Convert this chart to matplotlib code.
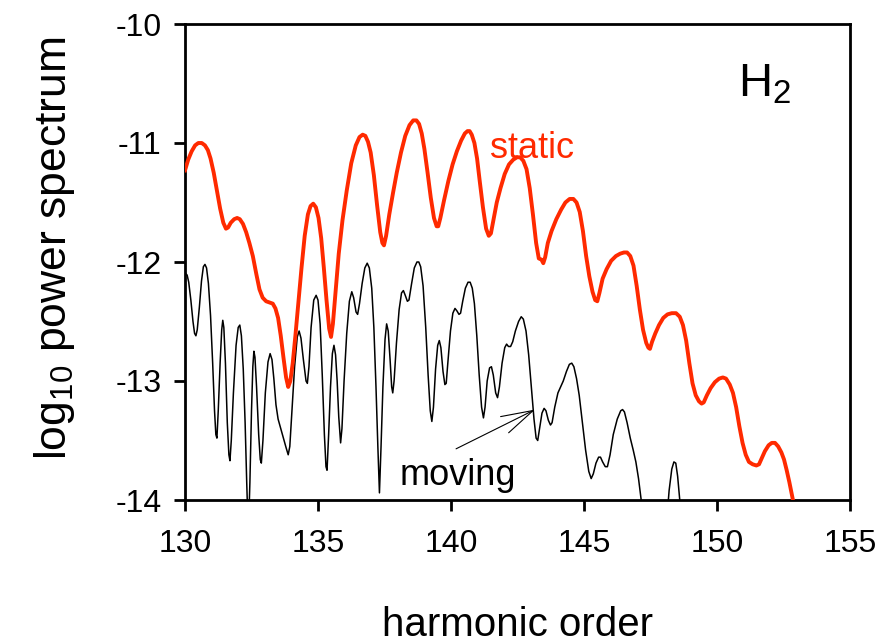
import matplotlib
matplotlib.use("Agg")
import matplotlib.pyplot as plt

plt.rcParams['font.family'] = ['Liberation Sans', 'DejaVu Sans']
plt.rcParams['mathtext.fontset'] = 'custom'
plt.rcParams['mathtext.rm'] = 'Liberation Sans'
plt.rcParams['mathtext.it'] = 'Liberation Sans'
plt.rcParams['mathtext.bf'] = 'Liberation Sans'

# ---------------- data ----------------
static_x = [130.00, 130.12, 130.25, 130.38, 130.50, 130.63, 130.75, 130.86, 130.96, 131.08,
            131.20, 131.32, 131.44, 131.54, 131.62, 131.72, 131.85, 131.96, 132.06, 132.18,
            132.30, 132.42, 132.55, 132.68, 132.80, 132.92, 133.05, 133.18, 133.30, 133.40,
            133.50, 133.60, 133.70, 133.80, 133.88, 133.96, 134.05, 134.15, 134.26, 134.38,
            134.50, 134.62, 134.72, 134.82, 134.92, 135.02, 135.12, 135.22, 135.32, 135.42,
            135.49, 135.56, 135.66, 135.78, 135.92, 136.08, 136.25, 136.42, 136.56, 136.68,
            136.78, 136.88, 136.98, 137.10, 137.22, 137.34, 137.42, 137.48, 137.56, 137.68,
            137.82, 137.96, 138.12, 138.28, 138.44, 138.58, 138.70, 138.80, 138.90, 139.00,
            139.12, 139.24, 139.36, 139.46, 139.52, 139.60, 139.74, 139.90, 140.06, 140.22,
            140.38, 140.52, 140.62, 140.70, 140.78, 140.88, 140.98, 141.08, 141.20, 141.32,
            141.42, 141.50, 141.60, 141.72, 141.86, 142.02, 142.18, 142.34, 142.48, 142.60,
            142.72, 142.84, 142.96, 143.08, 143.20, 143.30, 143.40, 143.47, 143.54, 143.64,
            143.78, 143.96, 144.14, 144.30, 144.46, 144.60, 144.72, 144.84, 144.96, 145.08,
            145.20, 145.32, 145.42, 145.50, 145.58, 145.70, 145.85, 146.02, 146.20, 146.36,
            146.50, 146.62, 146.74, 146.86, 146.98, 147.10, 147.22, 147.34, 147.42, 147.48,
            147.56, 147.68, 147.82, 147.98, 148.14, 148.30, 148.46, 148.60, 148.72, 148.84,
            148.96, 149.08, 149.20, 149.32, 149.42, 149.50, 149.62, 149.76, 149.92, 150.08,
            150.22, 150.34, 150.48, 150.60, 150.72, 150.84, 150.96, 151.08, 151.20, 151.34,
            151.48, 151.58, 151.68, 151.80, 151.94, 152.06, 152.18, 152.30, 152.42, 152.52,
            152.62, 152.72, 152.82, 152.90, 153.00]
static_y = [-11.23, -11.14, -11.07, -11.02, -11.00, -11.00, -11.02, -11.06, -11.13, -11.25,
            -11.40, -11.55, -11.67, -11.72, -11.71, -11.67, -11.64, -11.63, -11.64, -11.68,
            -11.75, -11.84, -11.95, -12.10, -12.23, -12.30, -12.33, -12.34, -12.35, -12.39,
            -12.47, -12.62, -12.80, -12.97, -13.05, -13.00, -12.85, -12.62, -12.35, -12.05,
            -11.78, -11.60, -11.53, -11.51, -11.54, -11.63, -11.80, -12.05, -12.32, -12.56,
            -12.63, -12.52, -12.25, -11.93, -11.65, -11.40, -11.17, -11.02, -10.95, -10.93,
            -10.94, -10.99, -11.08, -11.27, -11.52, -11.75, -11.84, -11.86, -11.78, -11.60,
            -11.42, -11.25, -11.08, -10.94, -10.85, -10.81, -10.81, -10.84, -10.92, -11.05,
            -11.25, -11.46, -11.63, -11.70, -11.70, -11.63, -11.48, -11.32, -11.18, -11.07,
            -10.98, -10.92, -10.90, -10.90, -10.93, -11.00, -11.13, -11.32, -11.54, -11.72,
            -11.78, -11.76, -11.64, -11.50, -11.38, -11.26, -11.18, -11.14, -11.12, -11.12,
            -11.15, -11.22, -11.38, -11.60, -11.84, -11.97, -11.98, -12.01, -11.96, -11.84,
            -11.74, -11.64, -11.56, -11.50, -11.47, -11.47, -11.50, -11.58, -11.74, -11.95,
            -12.12, -12.25, -12.32, -12.33, -12.26, -12.14, -12.06, -11.99, -11.95, -11.93,
            -11.92, -11.92, -11.95, -12.03, -12.20, -12.40, -12.57, -12.68, -12.72, -12.73,
            -12.67, -12.60, -12.53, -12.47, -12.44, -12.43, -12.43, -12.46, -12.53, -12.66,
            -12.85, -13.02, -13.12, -13.17, -13.19, -13.18, -13.12, -13.06, -13.01, -12.98,
            -12.97, -12.98, -13.03, -13.10, -13.22, -13.38, -13.52, -13.62, -13.68, -13.70,
            -13.71, -13.70, -13.65, -13.59, -13.54, -13.52, -13.52, -13.55, -13.60, -13.66,
            -13.75, -13.85, -13.96, -14.05, -14.20]

moving_x = [130.00, 130.04, 130.08, 130.14, 130.22, 130.30, 130.36, 130.41, 130.46, 130.54,
            130.62, 130.69, 130.75, 130.81, 130.88, 130.96, 131.04, 131.11, 131.16, 131.20,
            131.25, 131.32, 131.38, 131.42, 131.46, 131.52, 131.59, 131.65, 131.69, 131.74,
            131.82, 131.92, 132.00, 132.06, 132.12, 132.19, 132.26, 132.32, 132.38, 132.44,
            132.50, 132.55, 132.59, 132.63, 132.69, 132.77, 132.83, 132.87, 132.93, 133.02,
            133.12, 133.20, 133.27, 133.34, 133.42, 133.50, 133.60, 133.70, 133.80, 133.88,
            133.94, 134.02, 134.12, 134.22, 134.29, 134.36, 134.45, 134.55, 134.60, 134.66,
            134.74, 134.84, 134.93, 135.00, 135.08, 135.16, 135.24, 135.30, 135.34, 135.40,
            135.47, 135.54, 135.60, 135.66, 135.72, 135.78, 135.85, 135.90, 135.98, 136.08,
            136.18, 136.27, 136.34, 136.43, 136.49, 136.56, 136.66, 136.76, 136.85, 136.93,
            137.02, 137.10, 137.18, 137.25, 137.31, 137.37, 137.44, 137.52, 137.58, 137.64,
            137.71, 137.77, 137.81, 137.86, 137.95, 138.05, 138.14, 138.21, 138.28, 138.36,
            138.42, 138.52, 138.62, 138.72, 138.79, 138.86, 138.95, 139.05, 139.14, 139.22,
            139.28, 139.34, 139.42, 139.50, 139.56, 139.62, 139.70, 139.77, 139.82, 139.88,
            139.98, 140.07, 140.15, 140.22, 140.30, 140.36, 140.44, 140.54, 140.64, 140.72,
            140.80, 140.88, 140.97, 141.06, 141.15, 141.22, 141.28, 141.36, 141.45, 141.52,
            141.59, 141.68, 141.75, 141.82, 141.92, 142.02, 142.09, 142.16, 142.24, 142.32,
            142.42, 142.54, 142.64, 142.72, 142.82, 142.92, 143.02, 143.12, 143.20, 143.26,
            143.33, 143.42, 143.50, 143.57, 143.66, 143.74, 143.80, 143.90, 144.02, 144.12,
            144.22, 144.34, 144.45, 144.54, 144.62, 144.72, 144.82, 144.94, 145.06, 145.18,
            145.27, 145.35, 145.45, 145.55, 145.62, 145.70, 145.80, 145.88, 145.98, 146.10,
            146.25, 146.38, 146.45, 146.52, 146.62, 146.74, 146.85, 146.95, 147.05, 147.15,
            147.30, 147.40, 147.95, 148.10, 148.20, 148.30, 148.38, 148.45, 148.52, 148.60,
            148.75, 148.85]
moving_y = [-12.13, -12.10, -12.11, -12.17, -12.32, -12.50, -12.60, -12.62, -12.57, -12.38,
            -12.16, -12.04, -12.02, -12.05, -12.18, -12.45, -12.85, -13.25, -13.45, -13.48,
            -13.25, -12.85, -12.57, -12.49, -12.55, -12.85, -13.35, -13.62, -13.67, -13.50,
            -13.10, -12.70, -12.55, -12.53, -12.62, -12.90, -13.35, -13.85, -14.30, -13.85,
            -13.25, -12.88, -12.75, -12.80, -13.05, -13.45, -13.66, -13.69, -13.50, -13.10,
            -12.84, -12.77, -12.82, -12.98, -13.20, -13.32, -13.40, -13.48, -13.56, -13.62,
            -13.55, -13.25, -12.88, -12.63, -12.58, -12.64, -12.82, -13.00, -13.02, -12.88,
            -12.55, -12.32, -12.28, -12.32, -12.52, -12.95, -13.45, -13.72, -13.75, -13.45,
            -13.05, -12.77, -12.70, -12.78, -13.00, -13.30, -13.52, -13.40, -13.00, -12.60,
            -12.33, -12.25, -12.30, -12.42, -12.44, -12.35, -12.18, -12.05, -12.01, -12.05,
            -12.22, -12.55, -13.05, -13.55, -13.94, -13.55, -13.05, -12.65, -12.52, -12.58,
            -12.82, -13.05, -13.10, -13.00, -12.68, -12.40, -12.26, -12.24, -12.28, -12.33,
            -12.32, -12.18, -12.05, -12.00, -12.00, -12.04, -12.20, -12.55, -12.95, -13.25,
            -13.34, -13.22, -12.90, -12.70, -12.66, -12.72, -12.92, -13.03, -13.02, -12.85,
            -12.58, -12.43, -12.39, -12.41, -12.44, -12.43, -12.33, -12.22, -12.17, -12.17,
            -12.22, -12.35, -12.62, -12.95, -13.22, -13.31, -13.22, -13.00, -12.89, -12.88,
            -12.95, -13.10, -13.14, -13.05, -12.85, -12.72, -12.69, -12.71, -12.71, -12.67,
            -12.58, -12.50, -12.46, -12.48, -12.58, -12.78, -13.05, -13.32, -13.48, -13.50,
            -13.40, -13.27, -13.23, -13.25, -13.33, -13.37, -13.35, -13.22, -13.10, -13.05,
            -13.00, -12.92, -12.86, -12.85, -12.88, -12.98, -13.12, -13.35, -13.58, -13.76,
            -13.82, -13.78, -13.69, -13.64, -13.64, -13.68, -13.72, -13.72, -13.62, -13.45,
            -13.32, -13.25, -13.24, -13.26, -13.35, -13.48, -13.58, -13.68, -13.82, -14.00,
            -14.35, -14.60, -14.60, -14.20, -13.92, -13.74, -13.68, -13.69, -13.80, -14.00,
            -14.40, -14.60]

x_ticks = [130, 135, 140, 145, 150, 155]
y_ticks = [-14, -13, -12, -11, -10]

# ---------------- figure ----------------
fig = plt.figure(figsize=(8.8, 6.44), dpi=100)
ax = fig.add_axes([185 / 880, 1 - 500 / 644, 665 / 880, 476 / 644])

ax.plot(moving_x, moving_y, color='black', lw=1.1, zorder=2,
        solid_joinstyle='round')
ax.plot(static_x, static_y, color='#ff2a00', lw=2.8, zorder=3,
        solid_joinstyle='round')

ax.set_xlim(130, 155)
ax.set_ylim(-14, -10)
ax.set_xticks(x_ticks)
ax.set_yticks(y_ticks)
ax.set_xticklabels([str(t) for t in x_ticks])
ax.set_yticklabels([str(t) for t in y_ticks])

for s in ax.spines.values():
    s.set_linewidth(2.0)
ax.tick_params(axis='both', direction='out', length=8, width=2.0, labelsize=23)
ax.tick_params(axis='x', pad=13)
ax.tick_params(axis='y', pad=9)

ax.set_xlabel('harmonic order', fontsize=29)
ax.xaxis.set_label_coords(0.5, -0.222)
ax.set_ylabel('log$_{10}$ power spectrum', fontsize=32)
ax.yaxis.set_label_coords(-0.163, 0.53)

ax.text(141.47, -11.13, 'static', color='#ff2a00', fontsize=26)
ax.text(138.08, -13.87, 'moving', color='black', fontsize=26)
ax.text(150.79, -10.61, 'H$_2$', color='black', fontsize=34)

ax.annotate('', xy=(143.16, -13.24), xytext=(140.19, -13.57),
            arrowprops=dict(arrowstyle='->,head_length=2.3,head_width=0.65',
                            mutation_scale=10, lw=0.8, color='black',
                            shrinkA=0, shrinkB=0))

fig.savefig('out.png', dpi=100)
